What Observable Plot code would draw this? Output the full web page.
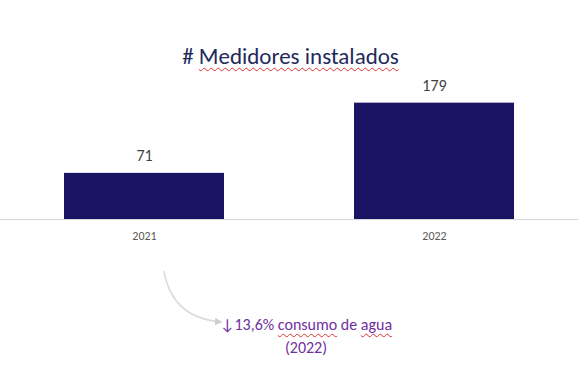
<!DOCTYPE html>
<html>
<head>
<meta charset="utf-8">
<script src="https://cdn.jsdelivr.net/npm/d3@7"></script>
<script src="https://cdn.jsdelivr.net/npm/@observablehq/plot@0.6"></script>
<style>
  html, body { margin: 0; padding: 0; background: #fff; }
  #wrap { position: relative; width: 581px; height: 376px; overflow: hidden; font-family: Carlito, Lato, sans-serif; }
  #title { position: absolute; left: 0; width: 581px; top: 41px; text-align: center; font-size: 23px; color: #1f2a5c; line-height: 30px; white-space: nowrap; }
  #note { position: absolute; left: 196px; width: 220px; top: 313px; text-align: center; font-size: 16px; color: #7030a0; line-height: 23px; white-space: nowrap; }
  .sp { text-decoration: underline wavy #e03030; text-decoration-thickness: 1px; text-underline-offset: 3px; }
  #chart { position: absolute; left: 0; top: 0; }
</style>
</head>
<body>
<div id="wrap">
  <div id="chart"></div>
  <div id="title"># <span class="sp">Medidores instalados</span></div>
  <div id="note">↓13,6% <span class="sp">consumo</span> de <span class="sp">agua</span><br>(2022)</div>
</div>
<script>
const years = ["2021", "2022"];
const medidores = [71, 179];
const data = years.map((y, i) => ({year: y, value: medidores[i]}));

const plot = Plot.plot({
  width: 581,
  height: 376,
  marginTop: 89,
  marginBottom: 157,
  marginLeft: 0,
  marginRight: 3,
  style: {fontFamily: "Carlito, Lato, sans-serif", background: "transparent"},
  x: {domain: years, paddingInner: 0.4475, paddingOuter: 0.22, label: null},
  y: {domain: [0, 200], axis: null},
  marks: [
    Plot.barY(data, {x: "year", y: "value", fill: "#1b1464"}),
    Plot.ruleY([0], {stroke: "#d9d9d9", strokeWidth: 1}),
    Plot.text(data, {x: "year", y: "value", text: d => String(d.value), dy: -17, fontSize: 16, fill: "#404040"}),
    Plot.axisX({tickSize: 0, tickPadding: 12, fontSize: 12, color: "#595959", label: null})
  ]
});
document.getElementById("chart").appendChild(plot);

// curved annotation arrow
const svg = d3.select(plot);
const xs = plot.scale("x");
const x0 = xs.apply("2021") + xs.bandwidth / 2 + 20;
svg.append("defs").append("marker")
  .attr("id", "ah").attr("viewBox", "0 0 10 10").attr("refX", 8).attr("refY", 5)
  .attr("markerWidth", 5).attr("markerHeight", 5).attr("orient", "auto")
  .append("path").attr("d", "M0,0L10,5L0,10z").attr("fill", "#d0d0d0");
svg.append("path")
  .attr("d", `M${x0},271 Q${x0 + 8},318 ${x0 + 57},322`)
  .attr("fill", "none").attr("stroke", "#dcdcdc").attr("stroke-width", 1.5)
  .attr("marker-end", "url(#ah)");
</script>
</body>
</html>
